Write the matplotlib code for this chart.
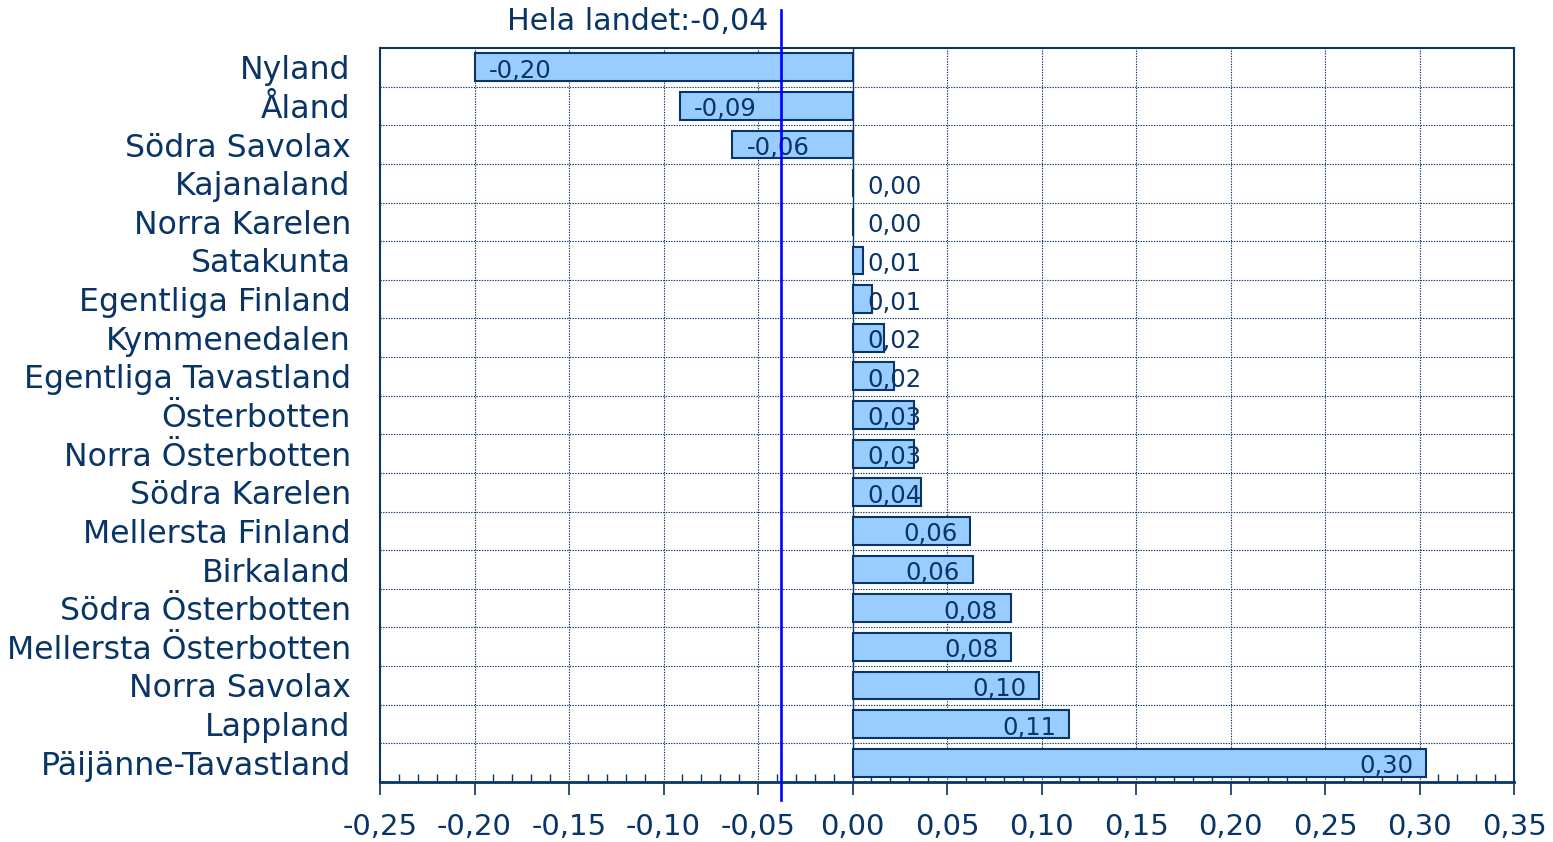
import matplotlib
matplotlib.use("Agg")
import matplotlib.pyplot as plt
import matplotlib.transforms as mtransforms
from matplotlib.ticker import MultipleLocator, FixedLocator, FixedFormatter

# ---- data ----
regions = ["Nyland", "Åland", "Södra Savolax", "Kajanaland", "Norra Karelen",
           "Satakunta", "Egentliga Finland", "Kymmenedalen", "Egentliga Tavastland",
           "Österbotten", "Norra Österbotten", "Södra Karelen", "Mellersta Finland",
           "Birkaland", "Södra Österbotten", "Mellersta Österbotten", "Norra Savolax",
           "Lappland", "Päijänne-Tavastland"]
values = [-0.200, -0.0915, -0.0635, 0.0, 0.0, 0.0058, 0.0102, 0.0169, 0.0217,
          0.0328, 0.0328, 0.0360, 0.0624, 0.0635, 0.0836, 0.0841, 0.0989,
          0.1148, 0.3037]
national_value = -0.038
national_label = "Hela landet:-0,04"
xticks = [-0.25, -0.20, -0.15, -0.10, -0.05, 0.00, 0.05, 0.10, 0.15, 0.20, 0.25, 0.30, 0.35]
xticklabels = ["-0,25", "-0,20", "-0,15", "-0,10", "-0,05", "0,00", "0,05", "0,10",
               "0,15", "0,20", "0,25", "0,30", "0,35"]

NAVY = "#083466"
BAR = "#99ccff"

plt.rcParams["font.family"] = ["DejaVu Sans"]

fig = plt.figure(figsize=(15.53, 8.42), dpi=100)
ax = fig.add_axes([380/1553, 1-782/842, (1514-380)/1553, (782-48)/842])

ypos = list(range(len(regions)))
ax.barh(ypos, values, height=0.72, color=BAR, edgecolor=NAVY, linewidth=1.5, zorder=3)

ax.set_xlim(-0.25, 0.35)
ax.set_ylim(len(regions) - 0.5, -0.5)

# x axis
ax.xaxis.set_major_locator(FixedLocator(xticks))
ax.xaxis.set_major_formatter(FixedFormatter(xticklabels))
ax.xaxis.set_minor_locator(MultipleLocator(0.01))
ax.tick_params(axis="x", which="major", direction="out", length=9, width=1.2,
               color=NAVY, labelsize=21, labelcolor=NAVY, pad=13)
ax.tick_params(axis="x", which="minor", direction="in", length=6, width=1.0, color=NAVY)

# y axis
ax.set_yticks(ypos)
ax.set_yticklabels(regions)
ax.tick_params(axis="y", which="major", length=0, labelsize=22.7, labelcolor=NAVY, pad=21)

# grid
for xv in xticks[1:-1]:
    ax.axvline(xv, color=NAVY, linestyle=(0, (1.2, 1.2)), linewidth=0.8, zorder=1)
for i in range(1, len(regions)):
    ax.axhline(i - 0.5, color=NAVY, linestyle=(0, (1.2, 1.2)), linewidth=0.8, zorder=1)
ax.axvline(0, color=NAVY, linewidth=1.0, zorder=2)

for s in ["left", "right", "top"]:
    ax.spines[s].set_color(NAVY)
    ax.spines[s].set_linewidth(1.5)
ax.spines["bottom"].set_color(NAVY)
ax.spines["bottom"].set_linewidth(2.0)

# value labels
fig.canvas.draw()
renderer = fig.canvas.get_renderer()
x0 = ax.transData.transform((0, 0))[0]
for y, v in zip(ypos, values):
    lab = f"{abs(v):.2f}".replace(".", ",")
    if v < -0.0049:
        lab = "-" + lab
    t = ax.text(0, y, lab, fontsize=17.5, color=NAVY, zorder=5)
    w = t.get_window_extent(renderer).width
    t.remove()
    xe = ax.transData.transform((v, 0))[0]
    if v >= 0:
        if xe - 13 - w >= x0 + 15:
            xpix, ha = xe - 13, "right"
        else:
            xpix, ha = x0 + 15, "left"
    else:
        if xe + 14 + w <= x0 - 14:
            xpix, ha = xe + 14, "left"
        else:
            xpix, ha = x0 - 14, "right"
    xd = ax.transData.inverted().transform((xpix, 0))[0]
    ax.annotate(lab, (xd, y), xytext=(0, -2.5), textcoords="offset points",
                ha=ha, va="center", fontsize=17.5, color=NAVY, zorder=5)

# national line
trans = mtransforms.blended_transform_factory(ax.transData, ax.transAxes)
ax.plot([national_value, national_value], [1 + 38/734, -18/734], transform=trans,
        color="#0000ff", linewidth=1.9, clip_on=False, zorder=6)
ax.annotate(national_label, (national_value, 1 + 26/734), xycoords=trans,
            xytext=(-8.5, 0), textcoords="offset points", ha="right", va="center",
            fontsize=21.7, color=NAVY, annotation_clip=False)

fig.savefig("out.png", dpi=100)
